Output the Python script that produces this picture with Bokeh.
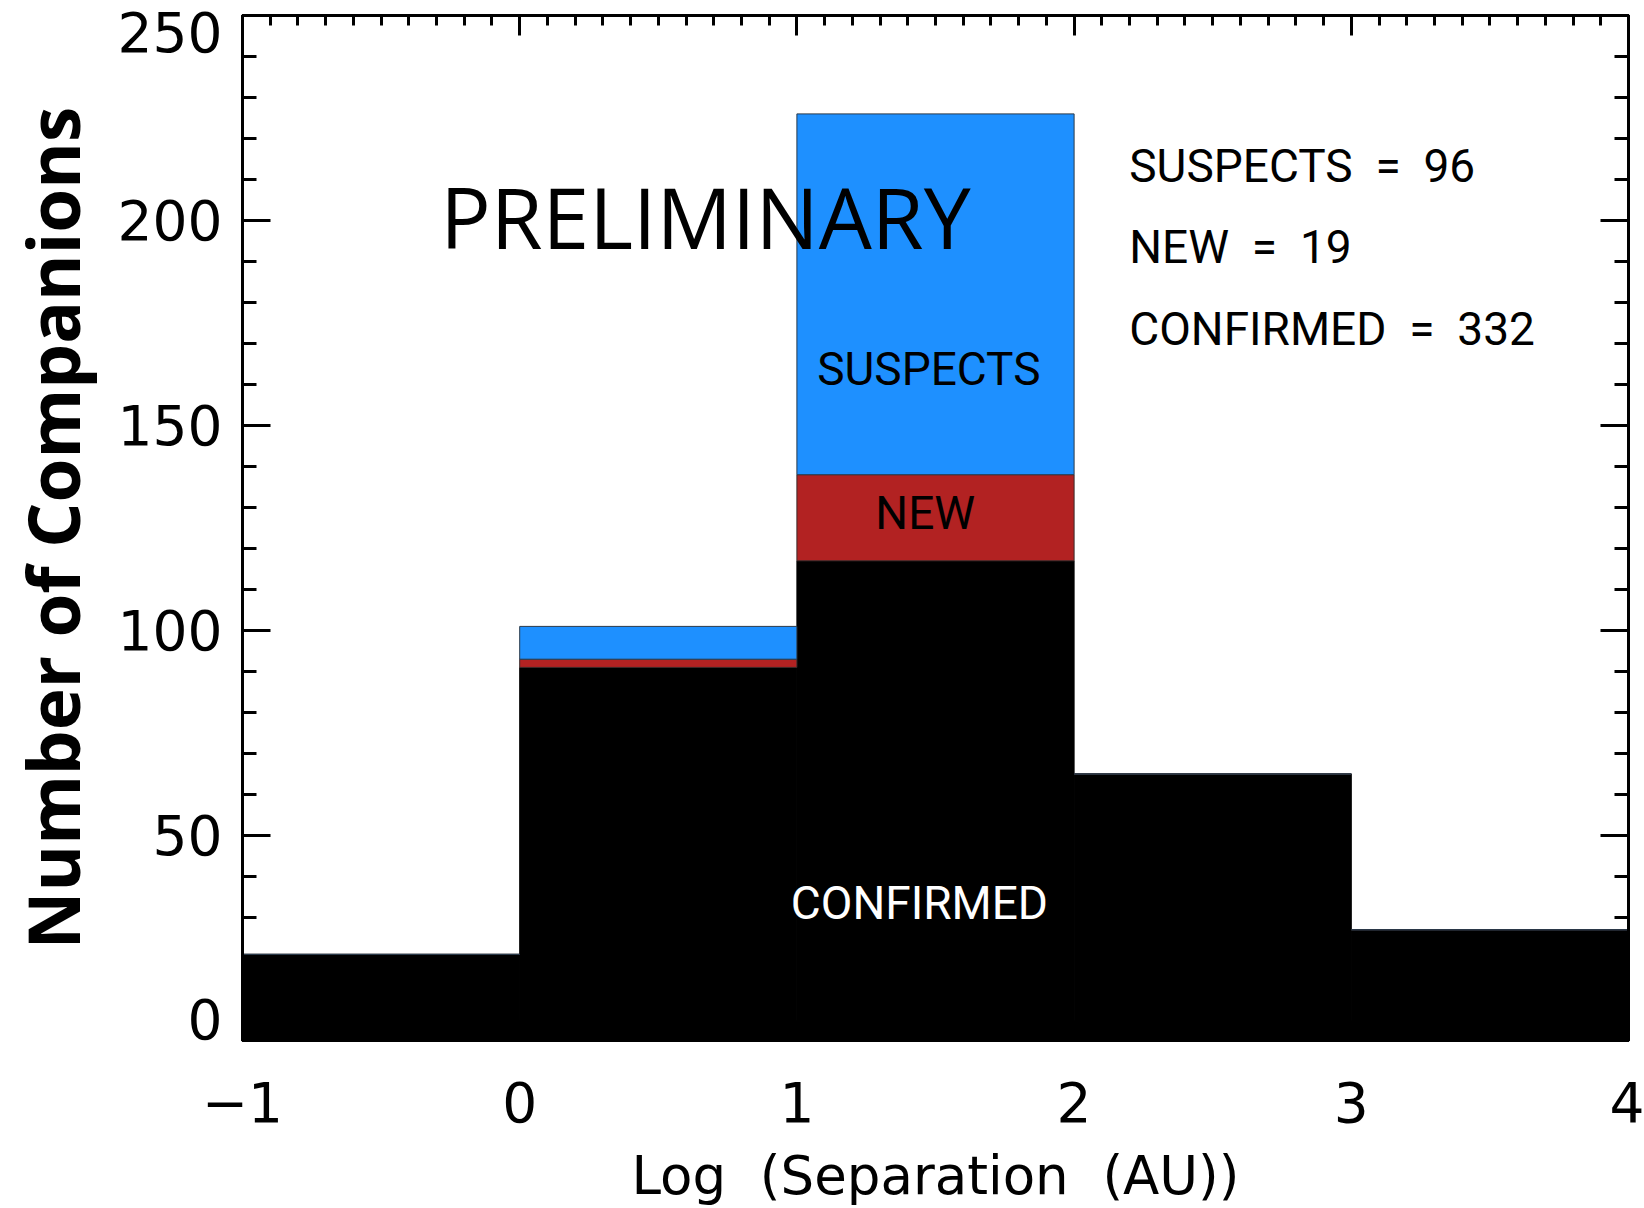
from bokeh.plotting import figure
from bokeh.models import Range1d, LinearAxis, SingleIntervalTicker, Label, ColumnDataSource, CustomJSTickFormatter
from bokeh.embed import file_html
from bokeh.resources import INLINE

# ---- data ----
bin_left = [-1, 0, 1, 2, 3]
bin_right = [0, 1, 2, 3, 4]
confirmed = [21, 91, 117, 65, 27]
new = [0, 2, 21, 0, 0]
suspects = [0, 8, 88, 0, 0]
totals_text = ["SUSPECTS \u00a0= \u00a096", "NEW \u00a0= \u00a019", "CONFIRMED \u00a0= \u00a0332"]
y_ticks = [0, 50, 100, 150, 200, 250]
x_ticks = [-1, 0, 1, 2, 3, 4]

new_bottom = confirmed
new_top = [c + n for c, n in zip(confirmed, new)]
sus_top = [t + s for t, s in zip(new_top, suspects)]

TICK_FONT = "DejaVu Sans"
LABEL_FONT = "Roboto"

p = figure(width=1644, height=1208, output_backend="svg", toolbar_location=None,
           x_range=Range1d(-1, 4), y_range=Range1d(0, 250),
           min_border_left=240, min_border_right=16, min_border_top=15, min_border_bottom=168)
p.xgrid.visible = False
p.ygrid.visible = False
p.outline_line_color = "black"
p.outline_line_width = 3
p.background_fill_color = "white"
p.border_fill_color = "white"

src = ColumnDataSource(dict(left=bin_left, right=bin_right, c=confirmed,
                            nb=new_bottom, nt=new_top, st=sus_top))
p.quad(left="left", right="right", bottom=0, top="c", source=src,
       fill_color="black", line_color="black", line_width=1)
p.quad(left="left", right="right", bottom="nb", top="nt", source=src,
       fill_color="#B22222", line_color="#3a2a2a", line_width=1)
p.quad(left="left", right="right", bottom="nt", top="st", source=src,
       fill_color="#1E90FF", line_color="#2a3a4a", line_width=1)

def style_axis(ax, tick_in, minor_in, show_labels):
    ax.axis_line_width = 3
    ax.axis_line_color = "black"
    ax.major_tick_in = tick_in
    ax.major_tick_out = 0
    ax.minor_tick_in = minor_in
    ax.minor_tick_out = 0
    ax.major_tick_line_width = 3
    ax.minor_tick_line_width = 3
    ax.major_tick_line_color = "black"
    ax.minor_tick_line_color = "black"
    if not show_labels:
        ax.formatter = CustomJSTickFormatter(code="return ''")
        ax.major_label_standoff = 0

xa = p.xaxis[0]
xa.ticker = SingleIntervalTicker(interval=1, num_minor_ticks=10)
style_axis(xa, 20, 10, True)
xa.major_label_text_font = TICK_FONT
xa.major_label_text_font_size = "55px"
xa.major_label_text_color = "black"
xa.major_label_standoff = 41
xa.major_label_overrides = {x_ticks[0]: "\u2212" + str(abs(x_ticks[0]))}
xa.axis_label = "Log \u00a0(Separation \u00a0(AU))"
xa.axis_label_text_font = TICK_FONT
xa.axis_label_text_font_size = "53px"
xa.axis_label_text_font_style = "normal"
xa.axis_label_text_color = "black"
xa.axis_label_standoff = 20

ya = p.yaxis[0]
ya.ticker = SingleIntervalTicker(interval=50, num_minor_ticks=5)
style_axis(ya, 28, 14, True)
ya.major_label_text_font = TICK_FONT
ya.major_label_text_font_size = "55px"
ya.major_label_text_color = "black"
ya.major_label_text_line_height = 0.65
ya.major_label_standoff = 20
ya.major_label_overrides = {y_ticks[0]: str(y_ticks[0]) + "\n\u00a0"}
ya.axis_label = "Number of Companions"
ya.axis_label_text_font = "Open Sans"
ya.axis_label_text_font_size = "71px"
ya.axis_label_text_font_style = "bold"
ya.axis_label_text_color = "black"
ya.axis_label_standoff = 14

top_ax = LinearAxis(ticker=SingleIntervalTicker(interval=1, num_minor_ticks=10))
style_axis(top_ax, 20, 10, False)
p.add_layout(top_ax, "above")
right_ax = LinearAxis(ticker=SingleIntervalTicker(interval=50, num_minor_ticks=5))
style_axis(right_ax, 28, 14, False)
p.add_layout(right_ax, "right")

# annotations
p.add_layout(Label(x=-0.287, y=201.0, text="PRELIMINARY", text_font="Open Sans",
                   text_font_size="84px", text_color="black", text_baseline="middle"))
p.add_layout(Label(x=1.476, y=163.7, text="SUSPECTS", text_font=LABEL_FONT, text_font_size="46px",
                   text_align="center", text_baseline="middle", text_color="black"))
p.add_layout(Label(x=1.463, y=128.6, text="NEW", text_font=LABEL_FONT, text_font_size="46px",
                   text_align="center", text_baseline="middle", text_color="black"))
p.add_layout(Label(x=1.442, y=33.6, text="CONFIRMED", text_font=LABEL_FONT, text_font_size="46px",
                   text_align="center", text_baseline="middle", text_color="white"))
for txt, yy in zip(totals_text, [213.4, 193.6, 173.6]):
    p.add_layout(Label(x=2.199, y=yy, text=txt, text_font=LABEL_FONT, text_font_size="46px",
                       text_align="left", text_baseline="middle", text_color="black"))

open("out.html", "w").write(file_html(p, INLINE))
